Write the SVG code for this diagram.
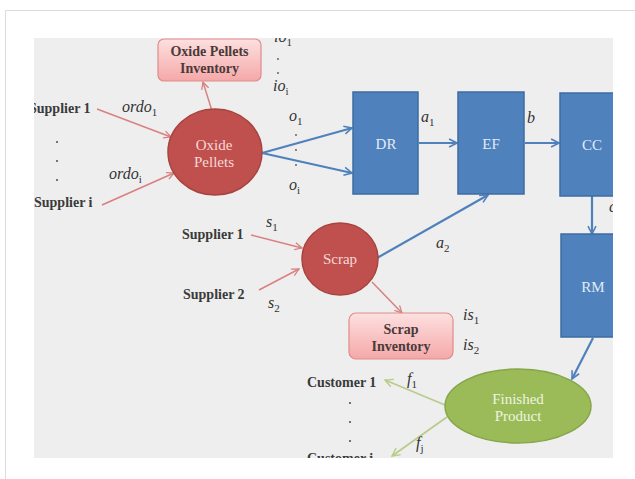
<svg xmlns="http://www.w3.org/2000/svg" width="635" height="479" viewBox="0 0 635 479">
<defs>
<style>
.lbl{font-family:"Liberation Serif","DejaVu Serif",serif;font-size:14px;font-weight:bold;fill:#3a3a3a}
.mth{font-family:"Liberation Serif","DejaVu Serif",serif;font-size:16px;font-style:italic;fill:#333}
.sub{font-size:11px;font-style:normal}
.wt{font-family:"Liberation Serif","DejaVu Serif",serif;font-size:15px;text-anchor:middle}
.it{font-family:"Liberation Serif","DejaVu Serif",serif;font-size:14px;font-weight:bold;text-anchor:middle;fill:#4a3a3a}
.blue{fill:#4f81bd;stroke:#3d6ca3;stroke-width:1.5}
.red{fill:#c0504d;stroke:#a84440;stroke-width:1.5}
.grn{fill:#9bbb59;stroke:#86a64a;stroke-width:1.5}
.pink{fill:url(#pg);stroke:#e08c8c;stroke-width:1.2}
.ca{fill:none;stroke:#4f81bd;stroke-width:2.2}
.cr{fill:none;stroke:#d98080;stroke-width:1.5}
.cg{fill:none;stroke:#b9cc8c;stroke-width:1.8}
.dot{fill:#555}
</style>
<linearGradient id="pg" x1="0" y1="0" x2="0" y2="1">
<stop offset="0" stop-color="#fde0e0"/>
<stop offset="1" stop-color="#f5a8a8"/>
</linearGradient>
<clipPath id="panel"><rect x="34" y="38" width="579" height="420"/></clipPath>
<marker id="ab" viewBox="0 0 10 10" refX="9" refY="5" markerWidth="4.5" markerHeight="4.5" orient="auto" markerUnits="strokeWidth"><path d="M1,1 L9,5 L1,9" fill="none" stroke="#4f81bd" stroke-width="1.6"/></marker>
<marker id="ar" viewBox="0 0 10 10" refX="9" refY="5" markerWidth="6" markerHeight="6" orient="auto" markerUnits="strokeWidth"><path d="M1,1 L9,5 L1,9" fill="none" stroke="#d98080" stroke-width="1.4"/></marker>
<marker id="ag" viewBox="0 0 10 10" refX="9" refY="5" markerWidth="5.5" markerHeight="5.5" orient="auto" markerUnits="strokeWidth"><path d="M1,1 L9,5 L1,9" fill="none" stroke="#b9cc8c" stroke-width="1.4"/></marker>
</defs>
<rect width="635" height="479" fill="#ffffff"/>
<line x1="5.5" y1="10.5" x2="635" y2="10.5" stroke="#dcdcdc" stroke-width="1"/>
<line x1="5.5" y1="10.5" x2="5.5" y2="479" stroke="#dcdcdc" stroke-width="1"/>
<rect x="34" y="38" width="579" height="420" fill="#eeeeee"/>
<g clip-path="url(#panel)">
<g id="connectors">
<path class="cr" d="M97,109 L171,137" marker-end="url(#ar)"/>
<path class="cr" d="M102,205 L174,173" marker-end="url(#ar)"/>
<path class="cr" d="M212,111 L203,82" marker-end="url(#ar)"/>
<path class="ca" d="M262,153 L352,128" marker-end="url(#ab)"/>
<path class="ca" d="M262,153 L352,173" marker-end="url(#ab)"/>
<path class="ca" d="M419,143 L457,143" marker-end="url(#ab)"/>
<path class="ca" d="M525,143 L559,143" marker-end="url(#ab)"/>
<path class="ca" d="M592,196 L592,234" marker-end="url(#ab)"/>
<path class="ca" d="M593,338 L572,379" marker-end="url(#ab)"/>
<path class="ca" d="M377,258 L488,195" marker-end="url(#ab)"/>
<path class="cr" d="M251,235 L302,248" marker-end="url(#ar)"/>
<path class="cr" d="M259,290 L299,269" marker-end="url(#ar)"/>
<path class="cr" d="M372,282 L402,313" marker-end="url(#ar)"/>
<path class="cg" d="M445,405 L385,380" marker-end="url(#ag)"/>
<path class="cg" d="M447,417 L392,456" marker-end="url(#ag)"/>
</g>
<g id="oxide-inventory">
<rect class="pink" x="158" y="39" width="103" height="42" rx="6"/>
<text class="it" x="209.5" y="56">Oxide Pellets</text>
<text class="it" x="209.5" y="73">Inventory</text>
</g>
<g id="oxide-pellets">
<ellipse class="red" cx="215" cy="152" rx="47" ry="43"/>
<text class="wt" x="214" y="150" fill="#f6d9d8">Oxide</text>
<text class="wt" x="214" y="167" fill="#f6d9d8">Pellets</text>
</g>
<g id="dr">
<rect class="blue" x="353" y="92" width="65" height="102"/>
<text class="wt" x="386" y="149" fill="#e2ebf6">DR</text>
</g>
<g id="ef">
<rect class="blue" x="458" y="92" width="66" height="102"/>
<text class="wt" x="491" y="149" fill="#e2ebf6">EF</text>
</g>
<g id="cc">
<rect class="blue" x="560" y="93" width="70" height="103"/>
<text class="wt" x="592" y="150" fill="#e2ebf6">CC</text>
</g>
<g id="rm">
<rect class="blue" x="561" y="234" width="70" height="103"/>
<text class="wt" x="593" y="292" fill="#e2ebf6">RM</text>
</g>
<g id="scrap">
<ellipse class="red" cx="340" cy="259" rx="38" ry="36"/>
<text class="wt" x="340" y="264" fill="#f6d9d8">Scrap</text>
</g>
<g id="scrap-inventory">
<rect class="pink" x="349" y="313" width="104" height="46" rx="7"/>
<text class="it" x="401" y="334">Scrap</text>
<text class="it" x="401" y="351">Inventory</text>
</g>
<g id="finished-product">
<ellipse class="grn" cx="518" cy="406" rx="73" ry="37"/>
<text class="wt" x="518" y="404" fill="#eef4e0">Finished</text>
<text class="wt" x="518" y="421" fill="#eef4e0">Product</text>
</g>
<g id="labels">
<text class="lbl" x="29" y="113">Supplier 1</text>
<text class="lbl" x="34" y="207">Supplier i</text>
<text class="lbl" x="182" y="239">Supplier 1</text>
<text class="lbl" x="183" y="299">Supplier 2</text>
<text class="lbl" x="307" y="387">Customer 1</text>
<text class="lbl" x="307" y="463">Customer i</text>
<circle class="dot" cx="57" cy="142" r="1.1"/>
<circle class="dot" cx="57" cy="161" r="1.1"/>
<circle class="dot" cx="57" cy="180" r="1.1"/>
<circle class="dot" cx="278" cy="59" r="0.9"/>
<circle class="dot" cx="278" cy="73" r="0.9"/>
<circle class="dot" cx="296" cy="135" r="0.9"/>
<circle class="dot" cx="296" cy="150" r="0.9"/>
<circle class="dot" cx="296" cy="165" r="0.9"/>
<circle class="dot" cx="350" cy="403" r="1.1"/>
<circle class="dot" cx="350" cy="422" r="1.1"/>
<circle class="dot" cx="350" cy="441" r="1.1"/>
<text class="mth" x="122" y="112">ordo<tspan class="sub" dy="4">1</tspan></text>
<text class="mth" x="109" y="179">ordo<tspan class="sub" dy="4">i</tspan></text>
<text class="mth" x="274" y="42">io<tspan class="sub" dy="4">1</tspan></text>
<text class="mth" x="273" y="91">io<tspan class="sub" dy="4">i</tspan></text>
<text class="mth" x="289" y="121">o<tspan class="sub" dy="4">1</tspan></text>
<text class="mth" x="289" y="190">o<tspan class="sub" dy="4">i</tspan></text>
<text class="mth" x="421" y="122">a<tspan class="sub" dy="4">1</tspan></text>
<text class="mth" x="527" y="123">b</text>
<text class="mth" x="609" y="212">c</text>
<text class="mth" x="266" y="227">s<tspan class="sub" dy="4">1</tspan></text>
<text class="mth" x="268" y="308">s<tspan class="sub" dy="4">2</tspan></text>
<text class="mth" x="436" y="248">a<tspan class="sub" dy="4">2</tspan></text>
<text class="mth" x="463" y="320">is<tspan class="sub" dy="4">1</tspan></text>
<text class="mth" x="463" y="350">is<tspan class="sub" dy="4">2</tspan></text>
<text class="mth" x="407" y="384">f<tspan class="sub" dy="4">1</tspan></text>
<text class="mth" x="416" y="448">f<tspan class="sub" dy="4">j</tspan></text>
</g>
</g>
</svg>
